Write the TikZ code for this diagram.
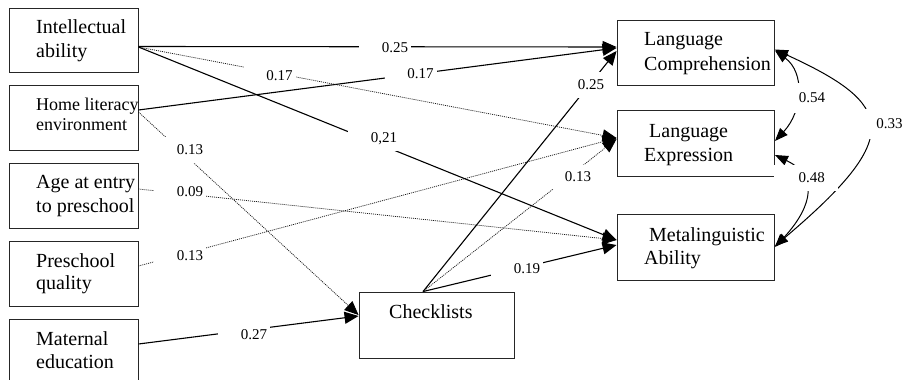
\documentclass[tikz,border=0pt]{standalone}
\usepackage{fontspec}
\setmainfont{Liberation Serif}
\usetikzlibrary{arrows.meta,calc}
\begin{document}
\begin{tikzpicture}[x=1pt,y=-1pt,
  box/.style={draw=black!85, line width=0.9pt, inner sep=0pt, rectangle},
  txt/.style={anchor=base west, inner sep=0pt, font=\fontsize{20}{24}\selectfont},
  stxt/.style={anchor=base west, inner sep=0pt, font=\fontsize{18}{20}\selectfont},
  sol/.style={line width=1.1pt, -{Triangle[length=14pt,width=12pt]}},
  dot/.style={line width=0.75pt, black!90, dash pattern=on 1pt off 1pt, -{Triangle[length=14pt,width=12pt,color=black]}},
  dbl/.style={line width=1pt, {Triangle[length=13pt,width=10pt]}-{Triangle[length=13pt,width=10pt]}},
  gapR/.style={fill=white, inner xsep=3pt, inner ysep=0pt, minimum height=24pt, text width=46pt, align=right, font=\fontsize{15}{18}\selectfont},
  gapC/.style={fill=white, inner sep=0pt, minimum height=24pt, minimum width=52pt, align=center, font=\fontsize{15}{18}\selectfont}]
\useasboundingbox[fill=white] (0,0) rectangle (902,380);

% boxes
\node[box, minimum width=129pt, minimum height=64pt] (ia) at (73.5,40) {};
\node[box, minimum width=129pt, minimum height=65pt] (hl) at (73.5,117.5) {};
\node[box, minimum width=129pt, minimum height=65pt] (ae) at (73.5,195.5) {};
\node[box, minimum width=129pt, minimum height=65pt] (pq) at (73.5,273.5) {};
\node[box, minimum width=129pt, minimum height=65pt] (me) at (73.5,351.5) {};
\node[box, minimum width=157pt, minimum height=65pt] (lc) at (695.5,52.5) {};
\node[box, minimum width=157pt, minimum height=66pt] (le) at (695.5,143) {};
\node[box, minimum width=157pt, minimum height=66pt] (ma) at (695.5,247) {};
\node[box, minimum width=155pt, minimum height=66pt] (ck) at (436.5,325) {};

% texts
\node[txt] (ia1) at (36,33) {Intellectual};
\node[txt] (ia2) at (36,57) {ability};
\node[stxt] (hl1) at (36,110) {Home literacy};
\node[stxt] (hl2) at (36,130) {environment};
\node[txt] (ae1) at (36,188) {Age at entry};
\node[txt] (ae2) at (36,212) {to preschool};
\node[txt] (pq1) at (36,267) {Preschool};
\node[txt] (pq2) at (36,289) {quality};
\node[txt] (me1) at (36,345) {Maternal};
\node[txt] (me2) at (36,368) {education};
\node[txt] (ck1) at (389,318) {Checklists};
\node[txt] (lc1) at (644,45) {Language};
\node[txt] (lc2) at (644,70) {Comprehension};
\node[txt] (le1) at (649,137) {Language};
\node[txt] (le2) at (644,161) {Expression};
\node[txt] (ma1) at (649,241) {Metalinguistic};
\node[txt] (ma2) at (644,264) {Ability};

% connectors
\draw[sol] ($(ia.east)+(0,6.5)$) -- ($(lc.west)+(0,-5.5)$);
\draw[sol] ($(hl.east)+(0,-7.5)$) -- ($(lc.west)+(0,-4.5)$);
\draw[dot] ($(ia.east)+(0,7)$) -- ($(le.west)+(0,-5)$);
\draw[sol] ($(ia.east)+(0,7)$) -- ($(ma.west)+(0,-7)$);
\draw[dot] ($(hl.east)+(0,-5.5)$) -- ($(ck.west)+(0,-10)$);
\draw[dot] ($(ae.east)+(0,-6.5)$) -- ($(ma.west)+(0,-7)$);
\draw[dot] ($(pq.east)+(0,-7.5)$) -- ($(le.west)+(0,-5)$);
\draw[sol] ($(me.east)+(0,-7.5)$) -- ($(ck.west)+(0,-9)$);
\draw[sol] ($(ck.north)+(-13.5,0)$) -- ($(lc.west)+(0,-1.5)$);
\draw[dot] ($(ck.north)+(-13.5,0)$) -- ($(le.west)+(0,-4)$);
\draw[sol] ($(ck.north)+(-13.5,0)$) -- ($(ma.west)+(0,-2)$);

\draw[dbl] ($(lc.east)+(0.5,-2)$) .. controls +(30,22) and +(28,-30) .. ($(le.east)+(0.5,-2)$);
\draw[dbl] ($(le.east)+(0.5,12)$) .. controls +(50,24) and +(30,-32) .. ($(ma.east)+(0.5,0)$);
\draw[dbl] ($(lc.east)+(0.5,-3)$) .. controls +(120,55) and +(130,-110) .. ($(ma.east)+(0.5,-1)$);

% labels
\node[gapR] (l1) at (385,48) {0.25};
\node[gapR] (l2) at (410.5,74) {0.17};
\node[gapR] (l3) at (269.5,76) {0.17};
\node[gapR] (l4) at (374,139) {0,21};
\node[gapC, minimum height=26pt] (l5) at (190,150) {0.13};
\node[gapR] (l6) at (180,192) {0.09};
\node[gapR] (l7) at (180,256) {0.13};
\node[gapR] (l8) at (244,335) {0.27};
\node[gapC, minimum width=40pt, minimum height=26pt] (l9) at (591,85) {0.25};
\node[gapC] (l10) at (578,177) {0.13};
\node[gapR] (l11) at (517,269) {0.19};
\node[gapC, minimum width=50pt, minimum height=30pt] (l12) at (812,98) {0.54};
\node[gapR, text width=38pt, inner xsep=13pt, minimum height=26pt] (l13) at (805.75,178) {0.48};
\node[gapC, minimum height=30pt] (l14) at (889.5,124) {0.33};
\end{tikzpicture}
\end{document}
